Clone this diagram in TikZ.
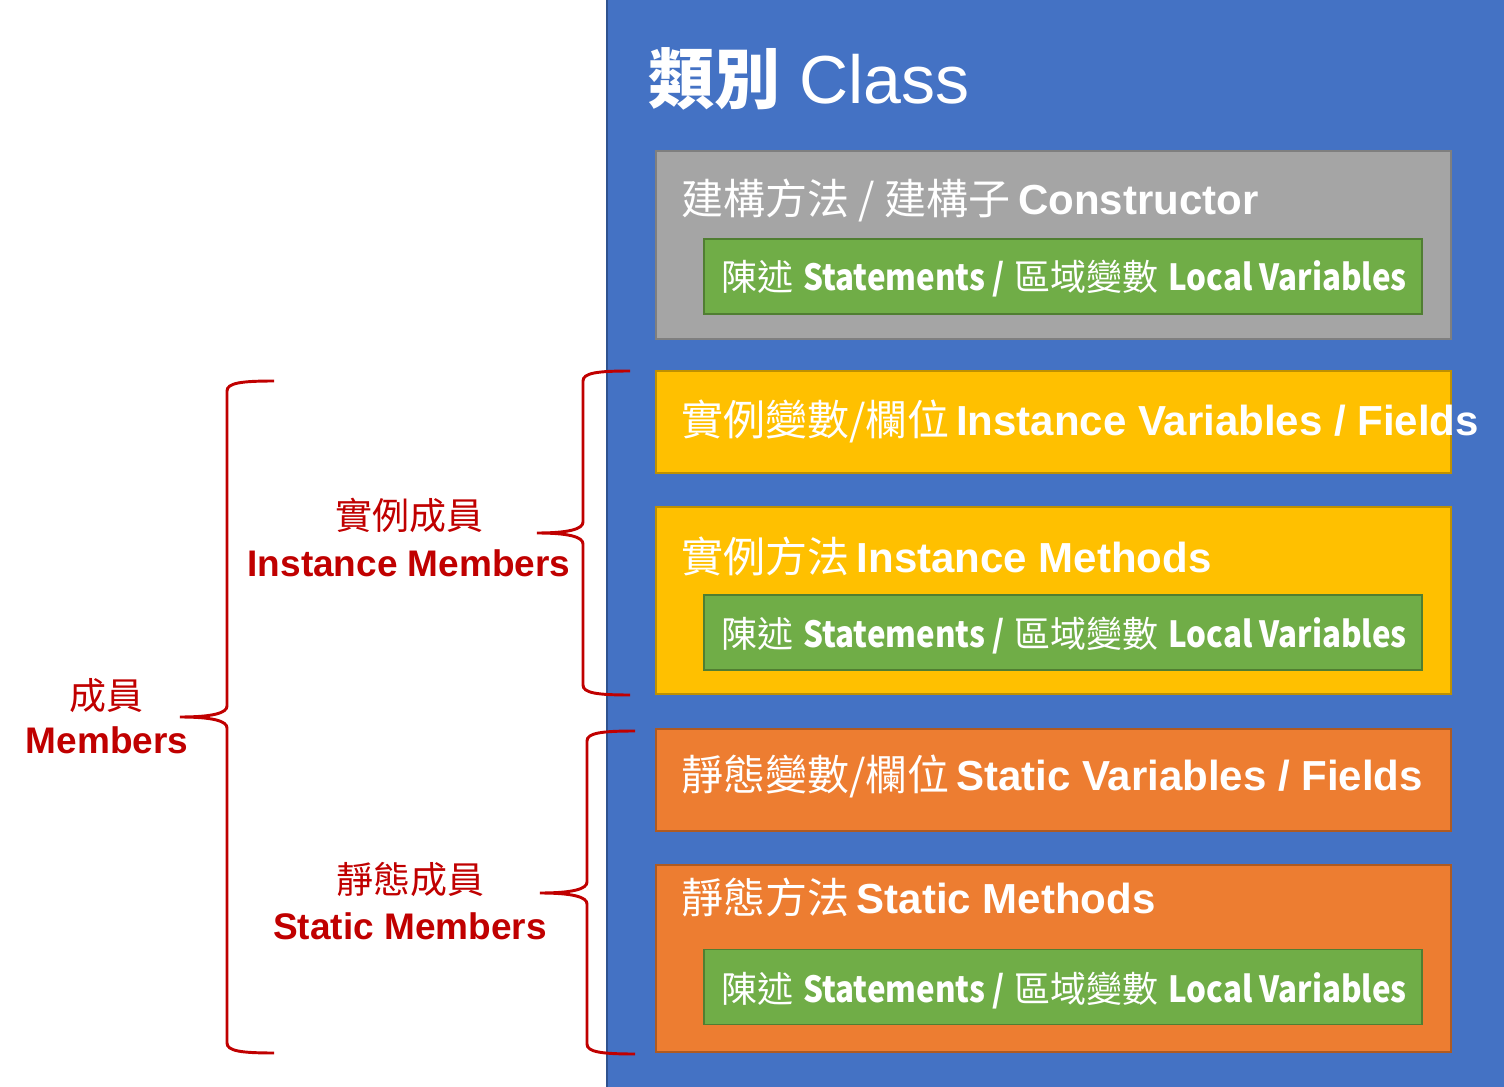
\documentclass[tikz,border=0pt]{standalone}
\usepackage{fontspec}
\setmainfont{Liberation Sans}
\newfontfamily\cjkfont{Noto Sans CJK TC}
\newfontfamily\greenlatin{Noto Sans CJK TC}[FakeStretch=0.87]
\newcommand\zhtxt[1]{{\cjkfont\mdseries #1}}
\newcommand\zhbold[1]{{\cjkfont\bfseries #1}}
\newcommand\srctxt[1]{{\greenlatin\bfseries #1}}
\definecolor{clsblue}{HTML}{4472C4}
\definecolor{clsblueline}{HTML}{2F528F}
\definecolor{ctorgray}{HTML}{A5A5A5}
\definecolor{ctorline}{HTML}{7F7F7F}
\definecolor{stmtgreen}{HTML}{70AD47}
\definecolor{stmtline}{HTML}{507E32}
\definecolor{instyellow}{HTML}{FFC000}
\definecolor{instline}{HTML}{BF9000}
\definecolor{statorange}{HTML}{ED7D31}
\definecolor{statline}{HTML}{AE5A21}
\definecolor{memred}{HTML}{C00000}
\newcommand\drawmembrace[6]{% xe xv xt yt ym yb
  \draw[bracestyle] (#1,#4) .. controls ({#2+(#1-#2)*0.3},#4) and (#2,{#4+2}) .. (#2,{#4+10})
    -- (#2,{#5-11}) .. controls (#2,{#5-4}) and ({#2-(#2-#3)*0.3},#5) .. (#3,#5)
    .. controls ({#2-(#2-#3)*0.3},#5) and (#2,{#5+4}) .. (#2,{#5+11})
    -- (#2,{#6-10}) .. controls (#2,{#6-2}) and ({#2+(#1-#2)*0.3},#6) .. (#1,#6);}
\begin{document}
\begin{tikzpicture}[x=0.75pt,y=-0.75pt,
  panel/.style={draw, line width=1.1pt, inner sep=0pt, minimum width=596.25pt},
  stmtbox/.style={draw=stmtline, fill=stmtgreen, line width=1.1pt, inner sep=0pt, minimum width=538.5pt, minimum height=56.25pt},
  headtext/.style={anchor=base west, inner sep=0pt, text=white, font=\fontsize{31.5pt}{36pt}\selectfont\bfseries},
  stmttext/.style={anchor=base west, inner sep=0pt, text=white, font=\fontsize{27pt}{32pt}\selectfont},
  redtext/.style={anchor=base, inner sep=0pt, text=memred, font=\fontsize{27.75pt}{32pt}\selectfont\bfseries},
  bracestyle/.style={draw=memred, line width=2.2pt}]
\useasboundingbox (0,0) rectangle (1504,1087);
% class panel
\node[draw=clsblueline, fill=clsblue, line width=1.2pt, inner sep=0pt, minimum width=673.5pt, minimum height=818pt] (cls) at (1056,543.5) {};
\node[anchor=base west, inner sep=0pt, text=white, font=\fontsize{51pt}{60pt}\selectfont] (clstitle) at (648,104) {\zhbold{\fontsize{49.5pt}{60pt}\selectfont 類別} Class};
% constructor
\node[panel, draw=ctorline, fill=ctorgray, minimum height=141pt] (ctor) at (1053.5,245) {};
\node[headtext] (ctortitle) at (681,215) {\zhtxt{建構方法 / 建構子}\kern-3pt{} Constructor};
\node[stmtbox] (stmt1) at (1063,276.5) {};
\node[stmttext] (stmt1t) at (721,291) {\zhtxt{陳述} \srctxt{Statements /} \zhtxt{區域變數} \srctxt{Local Variables}};
% instance
\node[panel, draw=instline, fill=instyellow, minimum height=76.5pt] (ivar) at (1053.5,422) {};
\node[headtext] (ivart) at (681,436) {\zhtxt{實例變數/欄位}\kern-4pt{} Instance Variables / Fields};
\node[panel, draw=instline, fill=instyellow, minimum height=140.25pt] (imeth) at (1053.5,600.5) {};
\node[headtext] (imetht) at (681,572) {\zhtxt{實例方法}\kern-3pt{} Instance Methods};
\node[stmtbox] (stmt2) at (1063,632.5) {};
\node[stmttext] (stmt2t) at (721,647) {\zhtxt{陳述} \srctxt{Statements /} \zhtxt{區域變數} \srctxt{Local Variables}};
% static
\node[panel, draw=statline, fill=statorange, minimum height=76.5pt] (svar) at (1053.5,780) {};
\node[headtext] (svart) at (681,790) {\zhtxt{靜態變數/欄位}\kern-4pt{} Static Variables / Fields};
\node[panel, draw=statline, fill=statorange, minimum height=140.25pt] (smeth) at (1053.5,958.5) {};
\node[headtext] (smetht) at (681,913) {\zhtxt{靜態方法}\kern-3pt{} Static Methods};
\node[stmtbox] (stmt3) at (1063,987) {};
\node[stmttext] (stmt3t) at (721,1002) {\zhtxt{陳述} \srctxt{Statements /} \zhtxt{區域變數} \srctxt{Local Variables}};
% braces
\drawmembrace{274}{227}{180}{381}{717}{1053}
\drawmembrace{630}{583}{537}{371}{533}{695}
\drawmembrace{635}{587}{540}{731}{893}{1054}
% labels
\node[redtext] (memzh) at (106,709) {\zhtxt{成員}};
\node[redtext] (memen) at (107,753) {Members};
\node[redtext] (instzh) at (409,530) {\zhtxt{實例成員}};
\node[redtext] (insten) at (409,576) {Instance Members};
\node[redtext] (statzh) at (410,893) {\zhtxt{靜態成員}};
\node[redtext] (staten) at (410,939) {Static Members};
\end{tikzpicture}
\end{document}
